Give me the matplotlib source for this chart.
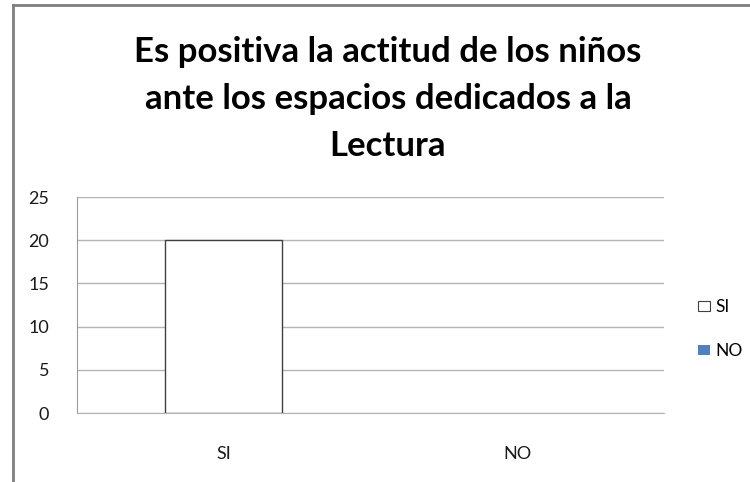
import numpy as np
import matplotlib.pyplot as plt
from matplotlib.lines import Line2D

plt.rcParams['font.family'] = ['Lato', 'DejaVu Sans']

# Datos
categorias = ["SI", "NO"]
valores = [20, 0]
colores = ["white", "#4f81bd"]
bordes = ["#404040", "#4f81bd"]
anchos_borde = [1.0, 0.0]
yticks = [0, 5, 10, 15, 20, 25]
titulo = "Es positiva la actitud de los niños\nante los espacios dedicados a la\nLectura"

W, H = 750, 482
fig = plt.figure(figsize=(W/100, H/100), dpi=100)
# area de trazado en pixeles: x 77-664, y 197-413
ax = fig.add_axes([77/W, 1-413/H, (664-77)/W, (413-197)/H])

x = np.arange(len(categorias))
for i in range(len(categorias)):
    ax.bar(x[i], valores[i], width=0.40, color=colores[i], edgecolor=bordes[i],
           linewidth=anchos_borde[i], label=categorias[i], zorder=3)

ax.set_xlim(-0.5, len(categorias)-0.5)
ax.set_ylim(0, 25)
ax.set_yticks(yticks)
ax.set_xticks(x)
ax.set_xticklabels(categorias)
ax.grid(axis='y', color='#b4b4b4', linewidth=1.0, zorder=0)
ax.tick_params(axis='both', length=0, labelsize=13, colors='#1a1a1a')
ax.tick_params(axis='y', pad=20)
ax.tick_params(axis='x', pad=24)
for s in ['top', 'right']:
    ax.spines[s].set_visible(False)
ax.spines['left'].set_color('#9a9a9a')
ax.spines['bottom'].set_color('#b4b4b4')

# Titulo
fig.text(388/W, 1-99/H, titulo, ha='center', va='center', fontsize=25,
         fontweight='bold', linespacing=1.58, color='black')

# Leyenda
leg = ax.legend(loc='center left', bbox_to_anchor=(682/W, 1-329/H),
                bbox_transform=fig.transFigure, frameon=False, fontsize=12.5,
                handlelength=0.7, handleheight=0.5, handletextpad=0.3,
                labelspacing=1.6)
leg.get_patches()[0].set_linewidth(0.8)

# Borde del grafico
fig.add_artist(Line2D([13/W, 13/W], [0, 1-5/H], color='#7f7f7f', linewidth=2))
fig.add_artist(Line2D([13/W, 1], [1-5/H, 1-5/H], color='#7f7f7f', linewidth=2))

plt.savefig("out.png", dpi=100)
